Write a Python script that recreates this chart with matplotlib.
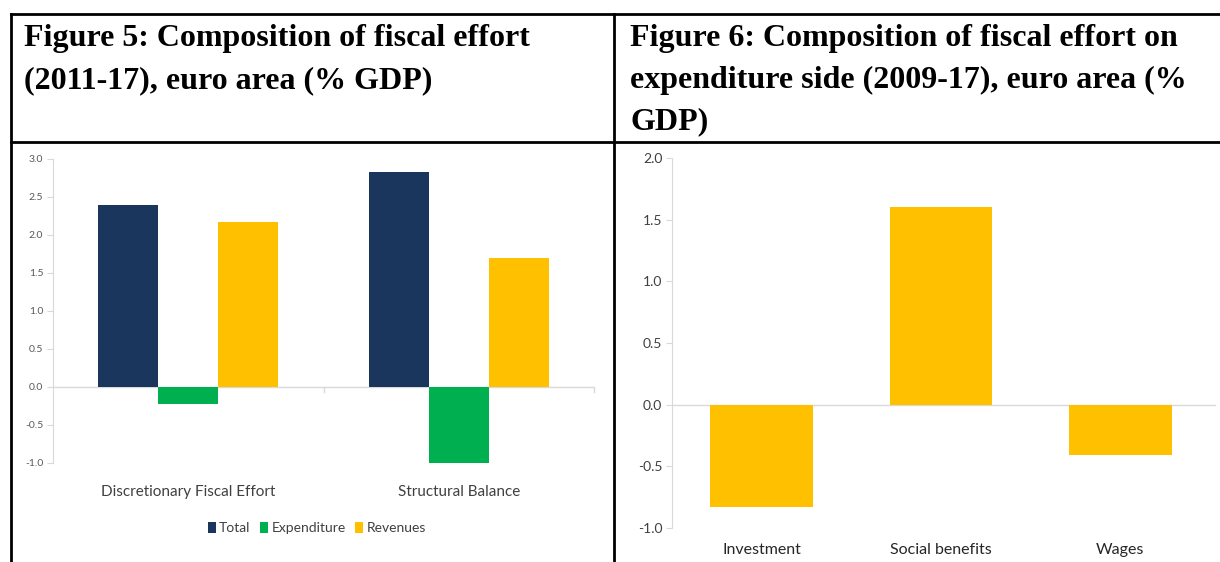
import matplotlib.pyplot as plt
import numpy as np
from matplotlib.lines import Line2D

# Figure 5 data
groups5 = ['Discretionary Fiscal Effort', 'Structural Balance']
series5 = ['Total', 'Expenditure', 'Revenues']
total5 = [2.40, 2.83]
expenditure5 = [-0.23, -1.02]
revenues5 = [2.17, 1.70]
colors5 = ['#1b365d', '#00b050', '#ffc000']

# Figure 6 data
cats6 = ['Investment', 'Social benefits', 'Wages']
vals6 = [-0.83, 1.60, -0.41]

title5 = 'Figure 5: Composition of fiscal effort\n(2011-17), euro area (% GDP)'
title6 = 'Figure 6: Composition of fiscal effort on\nexpenditure side (2009-17), euro area (%\nGDP)'

W, H = 1220, 562
fig = plt.figure(figsize=(W / 100, H / 100), dpi=100)

def fx(px):
    return px / W

def fy(py):
    return 1 - py / H

calib = ['Lato', 'DejaVu Sans']
grey = '#d9d9d9'
txt = '#595959'

# table borders
for (x0, y0, x1, y1) in [(11, 14, 1220, 14), (11, 142, 1220, 142),
                         (11, 14, 11, 562), (614, 14, 614, 562)]:
    fig.add_artist(Line2D([fx(x0), fx(x1)], [fy(y0), fy(y1)], color='black', lw=2))

fig.text(fx(24), fy(24), title5, family='Liberation Serif', weight='bold',
         fontsize=23, va='top', ha='left', linespacing=1.58)
fig.text(fx(630), fy(24), title6, family='Liberation Serif', weight='bold',
         fontsize=23, va='top', ha='left', linespacing=1.58)

# ---- Figure 5 ----
ax = fig.add_axes([fx(53), fy(463), fx(594 - 53), (463 - 159) / H])
x = np.arange(len(groups5))
bw = 0.222
for i, (vals, c, lab) in enumerate(zip([total5, expenditure5, revenues5], colors5, series5)):
    ax.bar(x + (i - 1) * bw, vals, bw, color=c, label=lab, zorder=2)
ax.set_xlim(-0.5, 1.5)
ax.set_ylim(-1, 3)
ax.set_yticks(np.arange(-1, 3.01, 0.5))
ax.set_yticklabels([f'{v:.1f}' for v in np.arange(-1, 3.01, 0.5)], family=calib, fontsize=7.5, color=txt)
ax.axhline(0, color=grey, lw=1, zorder=1)
for s in ['top', 'right', 'bottom']:
    ax.spines[s].set_visible(False)
ax.spines['left'].set_color(grey)
ax.tick_params(axis='y', length=4, color=grey, pad=3)
ax.set_xticks(x)
ax.set_xticklabels(groups5, family=calib, fontsize=11, color='#404040')
ax.tick_params(axis='x', length=0, pad=16)
ax.plot([0.5, 0.5], [0, -0.07], color=grey, lw=1, clip_on=False)
ax.plot([1.5, 1.5], [0, -0.07], color=grey, lw=1, clip_on=False)
fig.legend(*ax.get_legend_handles_labels(), loc='center', bbox_to_anchor=(fx(317), fy(528)),
           ncol=3, frameon=False, handlelength=0.55, handleheight=0.9, handletextpad=0.25,
           columnspacing=0.7, prop={'family': calib, 'size': 10}, labelcolor='#404040')

# ---- Figure 6 ----
ax2 = fig.add_axes([fx(672), fy(528), fx(1210 - 672), (528 - 158) / H])
x6 = np.arange(len(cats6))
ax2.bar(x6, vals6, 0.574, color='#ffc000', zorder=2)
ax2.set_xlim(-0.5, 2.5)
ax2.set_ylim(-1, 2)
ax2.set_yticks(np.arange(-1, 2.01, 0.5))
ax2.set_yticklabels([f'{v:.1f}' for v in np.arange(-1, 2.01, 0.5)], family=calib, fontsize=10, color='#404040')
ax2.plot([-0.5, 2.53], [0, 0], color=grey, lw=1, zorder=1, clip_on=False)
for s in ['top', 'right', 'bottom']:
    ax2.spines[s].set_visible(False)
ax2.spines['left'].set_color(grey)
ax2.tick_params(axis='y', length=4, color=grey, pad=3)
ax2.set_xticks(x6)
ax2.set_xticklabels(cats6, family=calib, fontsize=11.5, color='#262626')
ax2.tick_params(axis='x', length=0, pad=11)

fig.savefig('out.png', dpi=100)
